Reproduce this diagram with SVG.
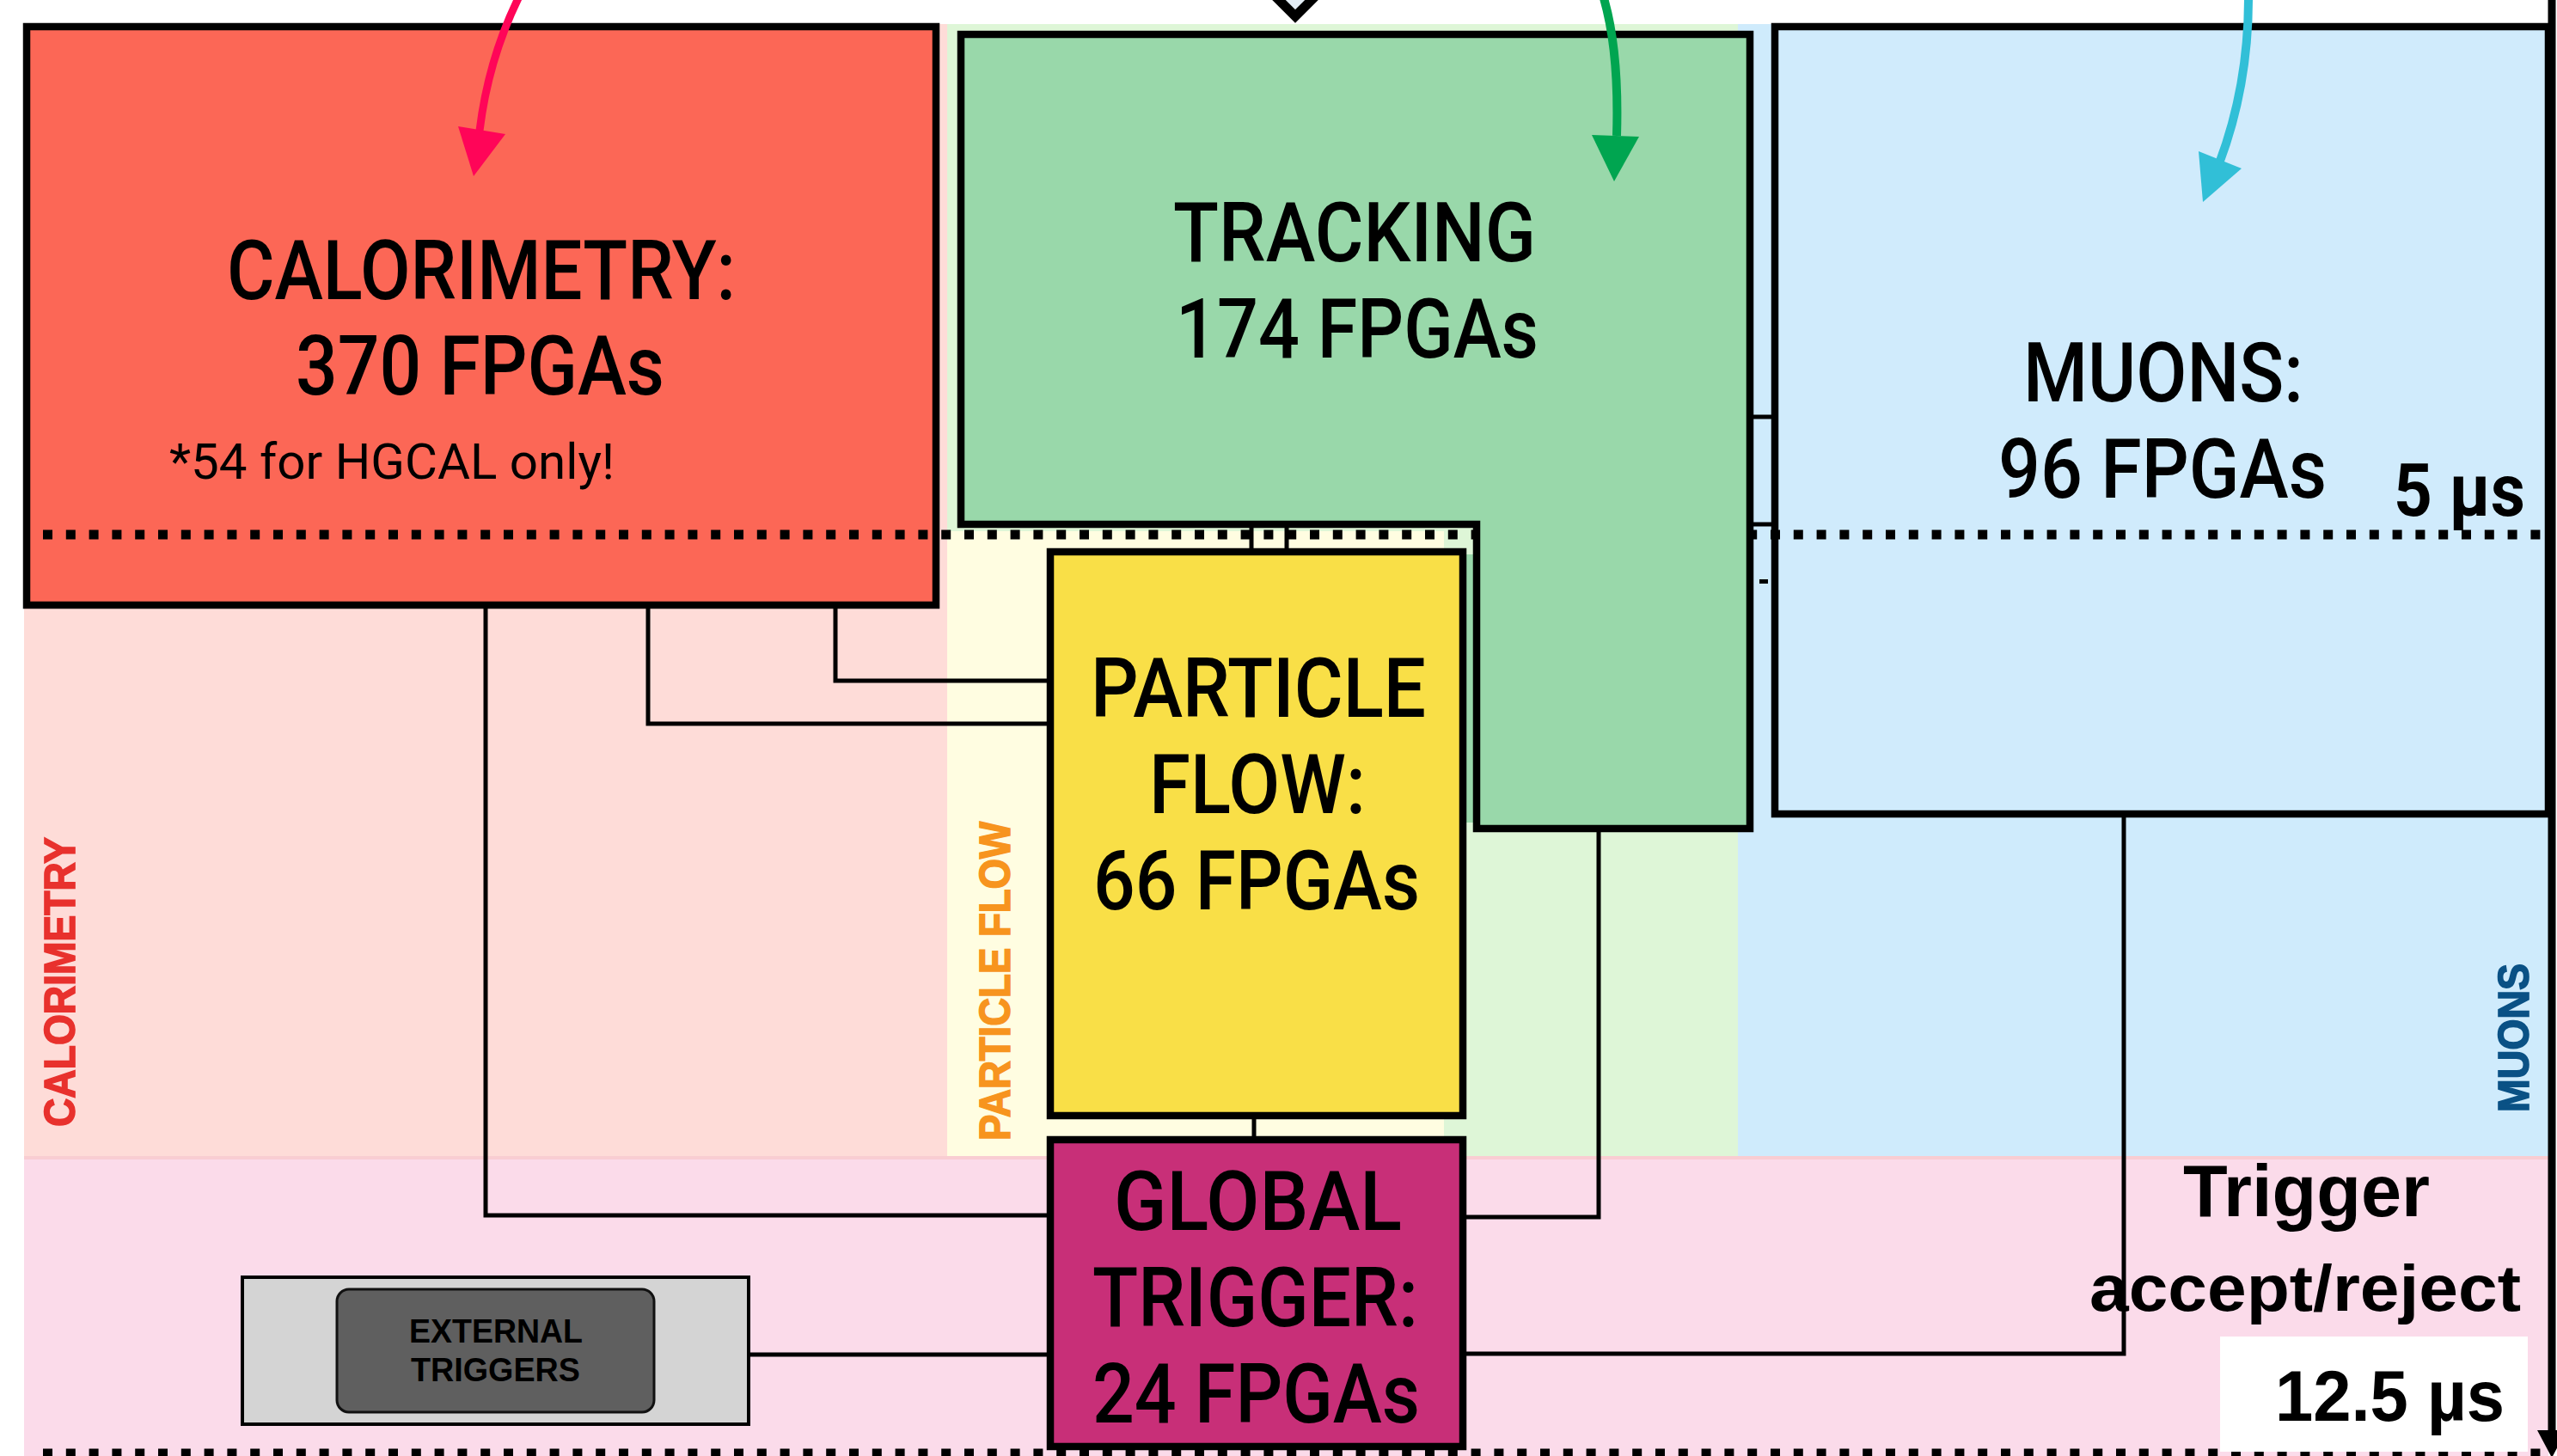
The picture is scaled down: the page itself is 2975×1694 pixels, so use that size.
<svg xmlns="http://www.w3.org/2000/svg" width="2975" height="1694" viewBox="0 0 2975 1694">
<defs>
<style>
.box{stroke:#000;stroke-width:8.5}
.lbl{font-family:Roboto,"DejaVu Sans",sans-serif;font-weight:500;font-size:96px;fill:#000}
.side{font-family:"Liberation Sans",Arial,sans-serif;font-weight:bold;font-size:50px;stroke-width:1.6}
.hb{font-family:"Liberation Sans",Arial,sans-serif;font-weight:bold;fill:#000}
.conn{fill:none;stroke:#000;stroke-width:5}
.dots{fill:none;stroke:#000;stroke-width:11;stroke-dasharray:11 15.8}
</style>
</defs>
<rect width="2975" height="1694" fill="#fff"/>
<g id="bands">
<rect x="28" y="28" width="1074" height="1318" fill="#FEDCD8"/>
<rect x="1102" y="28" width="920" height="590" fill="#DEF6D7"/>
<rect x="1102" y="618" width="578" height="728" fill="#FFFDE1"/>
<rect x="1680" y="618" width="342" height="728" fill="#DEF6D7"/>
<rect x="2022" y="28" width="943" height="1318" fill="#CFEBFC"/>
<rect x="28" y="1346" width="2937" height="348" fill="#FBDBEA"/>
<line x1="28" y1="1347" x2="2965" y2="1347" stroke="#F9CDD2" stroke-width="4"/>
</g>
<g id="band-labels">
<text class="side" fill="#E8312D" stroke="#E8312D" transform="translate(86.5,1311) rotate(-90)" textLength="337" lengthAdjust="spacingAndGlyphs">CALORIMETRY</text>
<text class="side" fill="#F7941E" stroke="#F7941E" transform="translate(1175,1327) rotate(-90)" textLength="371" lengthAdjust="spacingAndGlyphs">PARTICLE FLOW</text>
<text class="side" fill="#0A5185" stroke="#0A5185" transform="translate(2942,1294) rotate(-90)" textLength="173" lengthAdjust="spacingAndGlyphs">MUONS</text>
</g>
<g id="calorimetry">
<rect class="box" x="31" y="31" width="1058" height="673" fill="#FC6756"/>
<text class="lbl" x="264" y="348" textLength="592" lengthAdjust="spacingAndGlyphs">CALORIMETRY:</text>
<text class="lbl" x="344" y="459" textLength="429" lengthAdjust="spacingAndGlyphs">370 FPGAs</text>
<text class="lbl" style="font-size:57px;font-weight:400" x="197" y="557" textLength="518" lengthAdjust="spacingAndGlyphs">*54 for HGCAL only!</text>
</g>
<g id="muons">
<rect class="box" x="2065" y="31" width="900" height="916" fill="#D0EBFC"/>
<text class="lbl" x="2354" y="467" textLength="326" lengthAdjust="spacingAndGlyphs">MUONS:</text>
<text class="lbl" x="2325" y="579" textLength="382" lengthAdjust="spacingAndGlyphs">96 FPGAs</text>
</g>
<g id="latency-5us">
<line class="dots" x1="50" y1="622" x2="2962" y2="622"/>
<rect x="2047" y="674" width="10" height="5" fill="#000"/>
<text class="lbl" style="font-weight:700;font-size:86px" x="2785" y="600" textLength="153" lengthAdjust="spacingAndGlyphs">5 µs</text>
</g>
<g id="tracking">
<rect x="1702" y="645" width="16" height="312" fill="#99D8AA"/>
<path class="box" d="M1118 40 H2036 V964 H1718 V610 H1118 Z" fill="#99D8AA"/>
<text class="lbl" x="1365" y="304" textLength="422" lengthAdjust="spacingAndGlyphs">TRACKING</text>
<text class="lbl" x="1368" y="416" textLength="422" lengthAdjust="spacingAndGlyphs">174 FPGAs</text>
</g>
<g id="particle-flow">
<rect class="box" x="1222" y="642" width="480" height="656" fill="#F9DF47"/>
<text class="lbl" x="1269" y="834" textLength="390" lengthAdjust="spacingAndGlyphs">PARTICLE</text>
<text class="lbl" x="1337" y="946" textLength="252" lengthAdjust="spacingAndGlyphs">FLOW:</text>
<text class="lbl" x="1272" y="1058" textLength="380" lengthAdjust="spacingAndGlyphs">66 FPGAs</text>
</g>
<g id="global-trigger">
<rect class="box" x="1222" y="1326" width="480" height="357" fill="#C82F78"/>
<text class="lbl" x="1296" y="1431" textLength="335" lengthAdjust="spacingAndGlyphs">GLOBAL</text>
<text class="lbl" x="1271" y="1543" textLength="379" lengthAdjust="spacingAndGlyphs">TRIGGER:</text>
<text class="lbl" x="1271" y="1655" textLength="381" lengthAdjust="spacingAndGlyphs">24 FPGAs</text>
</g>
<g id="external-triggers">
<rect x="282" y="1486" width="589" height="171" fill="#D4D4D4" stroke="#000" stroke-width="4"/>
<rect x="392" y="1500" width="369" height="143" rx="14" fill="#5F5F5F" stroke="#111" stroke-width="3"/>
<text class="hb" style="font-size:38px" x="476" y="1562" textLength="202" lengthAdjust="spacingAndGlyphs">EXTERNAL</text>
<text class="hb" style="font-size:38px" x="478" y="1607" textLength="197" lengthAdjust="spacingAndGlyphs">TRIGGERS</text>
</g>
<g id="connectors">
<path class="conn" d="M565 708 V1414 H1218"/>
<path class="conn" d="M754 708 V842 H1218"/>
<path class="conn" d="M972 708 V792 H1218"/>
<path class="conn" d="M1456 614 V638"/>
<path class="conn" d="M1497 614 V638"/>
<path class="conn" d="M1459 1302 V1322"/>
<path class="conn" d="M1860 968 V1416 H1706"/>
<path class="conn" d="M2471 951 V1575 H1706"/>
<path class="conn" d="M871 1576 H1218"/>
<path class="conn" d="M2040 485 H2061"/>
<path class="conn" d="M2040 610 H2061"/>
<path d="M603 -2 Q568 70 558 152" fill="none" stroke="#FF0558" stroke-width="9"/>
<polygon points="533,147 588,156 551,205" fill="#FF0558"/>
<path d="M1866 -2 Q1884 60 1881 158" fill="none" stroke="#00A550" stroke-width="10"/>
<polygon points="1852,157 1907,159 1878,211" fill="#00A550"/>
<path d="M2616 -2 Q2616 100 2582 190" fill="none" stroke="#31BFD7" stroke-width="10"/>
<polygon points="2558,176 2608,196 2563,235" fill="#31BFD7"/>
<polygon points="1507,-19 1526,0 1507,19 1488,0" fill="#E4EEF6" stroke="#000" stroke-width="11"/>
</g>
<g id="time-axis">
<line x1="2969" y1="0" x2="2969" y2="1668" stroke="#000" stroke-width="9"/>
<polygon points="2952,1664 2986,1664 2969,1696" fill="#000"/>
<line class="dots" x1="50" y1="1691" x2="2962" y2="1691"/>
</g>
<g id="trigger-decision">
<text class="hb" style="font-size:86px" x="2540" y="1415" textLength="287" lengthAdjust="spacingAndGlyphs">Trigger</text>
<text class="hb" style="font-size:76px" x="2431" y="1525" textLength="502" lengthAdjust="spacingAndGlyphs">accept/reject</text>
<rect x="2583" y="1555" width="358" height="134" fill="#fff"/>
<text class="hb" style="font-size:84px" x="2647" y="1653" textLength="267" lengthAdjust="spacingAndGlyphs">12.5 µs</text>
</g>
</svg>
